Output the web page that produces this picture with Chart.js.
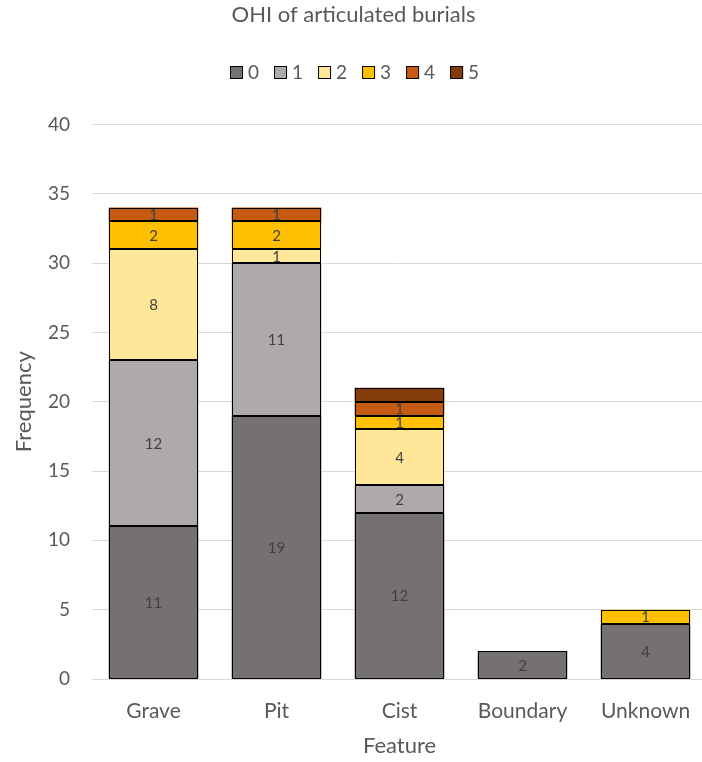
<!DOCTYPE html>
<html>
<head>
<meta charset="utf-8">
<script src="https://cdn.jsdelivr.net/npm/chart.js@4/dist/chart.umd.min.js"></script>
<style>
  html, body { margin: 0; padding: 0; background: #fff; overflow: hidden; }
  #wrap { width: 707px; height: 762px; }
</style>
</head>
<body>
<div id="wrap"><canvas id="c" width="707" height="762"></canvas></div>
<script>
// Burial features on the x axis
const features = ['Grave', 'Pit', 'Cist', 'Boundary', 'Unknown'];

// Counts per OHI score, one array per score
const ohi0 = [11, 19, 12, 2, 4];
const ohi1 = [12, 11, 2, 0, 0];
const ohi2 = [8, 1, 4, 0, 0];
const ohi3 = [2, 2, 1, 0, 1];
const ohi4 = [1, 1, 1, 0, 0];
const ohi5 = [0, 0, 1, 0, 0];

const seriesNames = ['0', '1', '2', '3', '4', '5'];
const seriesData = [ohi0, ohi1, ohi2, ohi3, ohi4, ohi5];
const seriesColors = ['#767171', '#AEAAAA', '#FFE699', '#FFC000', '#C55A11', '#843C0C'];

const FONT = 'Lato, "Open Sans", sans-serif';
const TEXT = '#595959';

// Crisp black outlines round every segment, then its value in the middle
// (the darkest score is left unlabelled)
const segmentDecor = {
  id: 'segmentDecor',
  afterDatasetsDraw(chart) {
    const ctx = chart.ctx;
    ctx.save();
    ctx.strokeStyle = '#000000';
    ctx.lineWidth = 1;
    chart.data.datasets.forEach((ds, i) => {
      const meta = chart.getDatasetMeta(i);
      meta.data.forEach((bar, j) => {
        if (!ds.data[j]) return;
        const l = Math.round(bar.x - bar.width / 2) + 0.5;
        const r = Math.round(bar.x + bar.width / 2) - 0.5;
        const t = Math.round(Math.min(bar.y, bar.base)) + 0.5;
        const b = Math.round(Math.max(bar.y, bar.base)) - 0.5;
        ctx.strokeRect(l, t, r - l, b - t);
      });
    });
    ctx.font = '15px ' + FONT;
    ctx.fillStyle = '#404040';
    ctx.textAlign = 'center';
    ctx.textBaseline = 'middle';
    chart.data.datasets.forEach((ds, i) => {
      if (i === 5) return;
      const meta = chart.getDatasetMeta(i);
      meta.data.forEach((bar, j) => {
        const v = ds.data[j];
        if (!v) return;
        ctx.fillText(String(v), bar.x, (bar.y + bar.base) / 2 + 1);
      });
    });
    ctx.restore();
  }
};

// Compact legend row under the title
const legendRow = {
  id: 'legendRow',
  afterDraw(chart) {
    const ctx = chart.ctx;
    const box = 13, gap = 5, spacing = 15, cy = 72, cx = 355;
    ctx.save();
    ctx.font = '19px ' + FONT;
    const widths = seriesNames.map(n => ctx.measureText(n).width);
    const total = widths.reduce((a, w) => a + box + gap + w, 0) + spacing * (seriesNames.length - 1);
    let x = Math.round(cx - total / 2);
    ctx.textBaseline = 'middle';
    ctx.textAlign = 'left';
    seriesNames.forEach((n, i) => {
      ctx.fillStyle = seriesColors[i];
      ctx.fillRect(x, cy - 6, box, box);
      ctx.strokeStyle = '#000000';
      ctx.lineWidth = 1;
      ctx.strokeRect(x + 0.5, cy - 5.5, box - 1, box - 1);
      ctx.fillStyle = TEXT;
      ctx.fillText(n, x + box + gap, cy + 1);
      x += box + gap + widths[i] + spacing;
    });
    ctx.restore();
  }
};

new Chart(document.getElementById('c'), {
  type: 'bar',
  data: {
    labels: features,
    datasets: seriesData.map((d, i) => ({
      label: seriesNames[i],
      data: d,
      backgroundColor: seriesColors[i],
      borderWidth: 0,
      barPercentage: 0.73,
      categoryPercentage: 1.0
    }))
  },
  options: {
    responsive: false,
    animation: false,
    layout: { padding: 0 },
    plugins: {
      title: {
        display: true,
        text: 'OHI of articulated burials',
        color: TEXT,
        font: { family: FONT, size: 22, weight: 'normal' },
        padding: { top: 2, bottom: 96 }
      },
      legend: { display: false },
      tooltip: { enabled: false }
    },
    scales: {
      x: {
        stacked: true,
        grid: { display: false },
        border: { display: true, color: '#d9d9d9', width: 1 },
        ticks: { color: TEXT, font: { family: FONT, size: 21 }, padding: 12 },
        afterFit(scale) { scale.height = 83; },
        title: {
          display: true,
          text: 'Feature',
          color: TEXT,
          font: { family: FONT, size: 22 },
          padding: { top: 4, bottom: 3 }
        }
      },
      y: {
        stacked: true,
        min: 0,
        max: 40,
        afterFit(scale) { scale.width = 92; },
        ticks: { stepSize: 5, color: TEXT, font: { family: FONT, size: 19 }, padding: 22 },
        grid: { color: '#d9d9d9', lineWidth: 1, drawTicks: false },
        border: { display: false },
        title: {
          display: true,
          text: 'Frequency',
          color: TEXT,
          font: { family: FONT, size: 22 },
          padding: { top: 11, bottom: 4 }
        }
      }
    }
  },
  plugins: [segmentDecor, legendRow]
});
</script>
</body>
</html>
